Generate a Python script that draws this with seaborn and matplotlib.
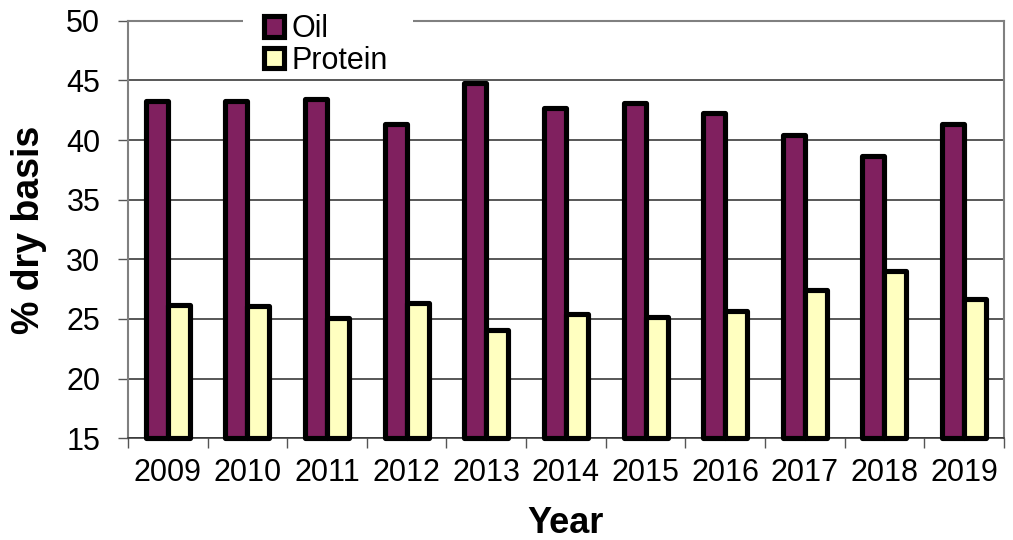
import matplotlib
matplotlib.use("Agg")
import matplotlib.pyplot as plt
import seaborn as sns
import pandas as pd
from matplotlib.patches import Patch, Rectangle
from matplotlib.ticker import FixedLocator

years = ["2009", "2010", "2011", "2012", "2013", "2014",
         "2015", "2016", "2017", "2018", "2019"]
oil = [43.3, 43.3, 43.4, 41.3, 44.8, 42.7, 43.1, 42.3, 40.4, 38.7, 41.3]
protein = [26.2, 26.1, 25.1, 26.3, 24.1, 25.4, 25.2, 25.7, 27.4, 29.0, 26.7]
series = ["Oil", "Protein"]
colors = ["#80205F", "#FFFFC0"]
y_ticks = [15, 20, 25, 30, 35, 40, 45, 50]
y_base = 15

df = pd.DataFrame({
    "Year": years * 2,
    "value": oil + protein,
    "series": [series[0]] * len(years) + [series[1]] * len(years),
})

sns.set_theme(style="white")
plt.rcParams["font.family"] = ["Liberation Sans", "DejaVu Sans"]
plt.rcParams["text.color"] = "black"
plt.rcParams["axes.labelcolor"] = "black"

fig = plt.figure(figsize=(10.13, 5.40), dpi=100)
ax = fig.add_axes([0.1264, 0.1883, 0.8645, 0.7734])

sns.barplot(data=df, x="Year", y="value", hue="series", order=years,
            hue_order=series, palette=colors, saturation=1, width=0.553,
            edgecolor="black", linewidth=3.7, legend=False, ax=ax,
            zorder=3)

# start every bar at the axis floor so its bottom outline is visible
for p in ax.patches:
    top = p.get_y() + p.get_height()
    p.set_y(y_base)
    p.set_height(top - y_base)
    p.set_joinstyle("round")
    p.set_clip_on(False)

ax.set_ylim(y_base, 50)
ax.set_xlim(-0.5, len(years) - 0.5)
ax.set_yticks(y_ticks)
ax.tick_params(axis="y", labelsize=22, length=7, width=1, color="#555555",
               direction="out", left=True, pad=13, labelcolor="black")
ax.tick_params(axis="x", which="major", labelsize=22, length=0, pad=14,
               labelcolor="black")
ax.xaxis.set_minor_locator(FixedLocator([i - 0.5 for i in range(len(years) + 1)]))
ax.tick_params(axis="x", which="minor", length=7, width=1, color="#555555",
               direction="out", bottom=True)

ax.grid(axis="y", color="#2a2a2a", linewidth=1.1, zorder=0)
ax.set_axisbelow(True)
for side in ["left", "right", "top"]:
    ax.spines[side].set_color("#808080")
    ax.spines[side].set_linewidth(1.5)
ax.spines["bottom"].set_color("#333333")
ax.spines["bottom"].set_linewidth(1.1)

ax.set_ylabel("% dry basis", fontsize=27, fontweight="bold", labelpad=14)
ax.set_xlabel("Year", fontsize=26, fontweight="bold", labelpad=13)

# white gap in the top frame line behind the legend
fig.add_artist(Rectangle((0.24, 0.95), 0.168, 0.04, transform=fig.transFigure,
                         facecolor="white", edgecolor="none", zorder=5))

handles = [Patch(facecolor=c, edgecolor="black", linewidth=3.7,
                 joinstyle="round") for c in colors]
leg = fig.legend(handles, series, loc="upper left",
                 bbox_to_anchor=(0.252, 0.9905), frameon=False, fontsize=22,
                 handlelength=0.65, handleheight=0.65, handletextpad=0.25,
                 labelspacing=0.05, borderpad=0.3, borderaxespad=0.0)
leg.set_zorder(10)

fig.savefig("out.png", dpi=100)
